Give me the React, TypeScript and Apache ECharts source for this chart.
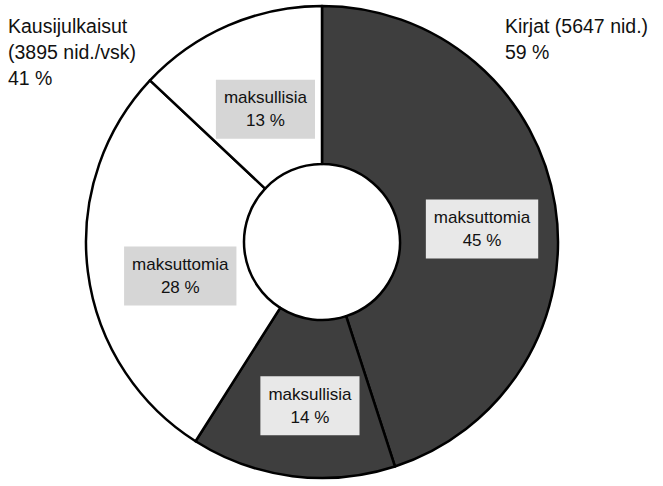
import React, { useEffect, useRef } from "react";
import * as echarts from "echarts";

const sliceNames = ["maksuttomia", "maksullisia", "maksuttomia", "maksullisia"];
const sliceValues = [45, 14, 28, 13];
const sliceGroups = ["Kirjat", "Kirjat", "Kausijulkaisut", "Kausijulkaisut"];
const groupTitles = ["Kausijulkaisut\n(3895 nid./vsk)\n41 %", "Kirjat (5647 nid.)\n59 %"];

const FONT = "'Liberation Sans', Arial, sans-serif";
const labelShift = [
  [2, 12],
  [8, 5],
  [17, 14],
  [7, 14],
];

export default function App() {
  const ref = useRef<HTMLDivElement>(null);
  useEffect(() => {
    document.body.style.margin = "0";
    const chart = echarts.init(ref.current!, null, { renderer: "svg" });
    const titleStyle = { fontFamily: FONT, fontSize: 19.5, fontWeight: "normal", color: "#111", lineHeight: 26 };
    chart.setOption({
      animation: false,
      backgroundColor: "#ffffff",
      title: [
        { text: groupTitles[0], left: 8, top: 13, padding: 0, textStyle: titleStyle },
        { text: groupTitles[1], left: 505, top: 13, padding: 0, textStyle: titleStyle },
      ],
      series: [
        {
          type: "pie",
          center: [322, 242],
          radius: [78, 236],
          startAngle: 90,
          clockwise: true,
          silent: true,
          itemStyle: { borderColor: "#000", borderWidth: 2.5 },
          labelLine: { show: false },
          label: {
            show: true,
            position: "inside",
            formatter: (p: any) => `${p.name}\n${p.value} %`,
            fontFamily: FONT,
            fontSize: 17,
            lineHeight: 23,
            color: "#111",
            padding: [7, 8, 6, 8],
          },
          labelLayout: (p: any) => ({ dx: labelShift[p.dataIndex][0], dy: labelShift[p.dataIndex][1] }),
          data: sliceValues.map((v, i) => {
            const dark = sliceGroups[i] === "Kirjat";
            return {
              name: sliceNames[i],
              value: v,
              itemStyle: { color: dark ? "#3e3e3e" : "#ffffff" },
              label: { backgroundColor: dark ? "#e8e8e8" : "#d6d6d6" },
            };
          }),
        },
      ],
    });
    return () => chart.dispose();
  }, []);
  return <div ref={ref} style={{ width: 663, height: 486 }} />;
}
